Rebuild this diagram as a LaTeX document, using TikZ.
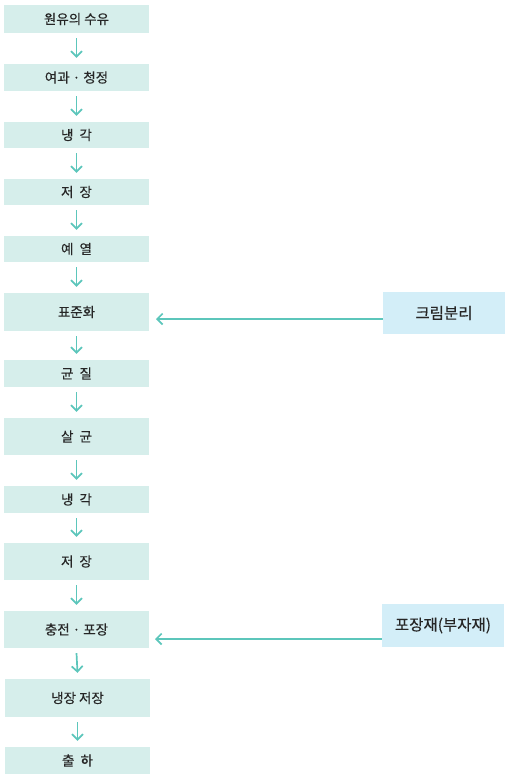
\documentclass[tikz,border=0pt]{standalone}
\usepackage{fontspec}
\setmainfont{Noto Sans CJK KR}
\newfontfamily\krm[FakeBold=0.35]{Noto Sans CJK KR}
\usetikzlibrary{arrows.meta}
\definecolor{boxfill}{HTML}{D6EEEB}
\definecolor{sidefill}{HTML}{D3EEF8}
\definecolor{arrowc}{HTML}{5CC6BB}
\definecolor{textc}{HTML}{262626}
\begin{document}
\begin{tikzpicture}[x=1pt,y=-1pt,
  stepbox/.style={fill=boxfill,draw=none,inner sep=0pt,text=textc,font=\krm\fontsize{13.5}{15}\selectfont},
  sidebox/.style={fill=sidefill,draw=none,inner sep=0pt,text=textc,font=\krm\fontsize{15.5}{17}\selectfont},
  flow/.style={draw=arrowc,line width=1.7pt,-{Straight Barb[length=5.5pt,width=11pt,line width=1.7pt]}}]
\useasboundingbox (0,0) rectangle (509,780);
% main boxes: (x1,y1) to (x2,y2)
\newcommand{\stepnode}[6]{\node[stepbox,minimum width=#4-#2,minimum height=#5-#3] (#1) at ({(#2+#4)/2},{(#3+#5)/2}) {#6};}
\stepnode{b1}{4}{5}{149}{33}{원유의 수유}
\stepnode{b2}{4}{64}{149}{91}{여과 · 청정}
\stepnode{b3}{4}{122}{149}{148}{냉\ \ 각}
\stepnode{b4}{4}{179}{149}{205}{저\ \ 장}
\stepnode{b5}{4}{236}{149}{262}{예\ \ 열}
\stepnode{b6}{4}{293}{149}{331}{표준화}
\stepnode{b7}{4}{360}{149}{387}{균\ \ 질}
\stepnode{b8}{4}{418}{149}{455}{살\ \ 균}
\stepnode{b9}{4}{486}{149}{513}{냉\ \ 각}
\stepnode{b10}{4}{543}{149}{580}{저\ \ 장}
\stepnode{b11}{4}{611}{149}{648}{충전 · 포장}
\stepnode{b12}{5}{679}{150}{717}{냉장 저장}
\stepnode{b13}{5}{747}{150}{774}{출\ \ 하}
\node[sidebox,minimum width=122,minimum height=42] (s1) at (444,313) {크림분리};
\node[sidebox,minimum width=122,minimum height=43] (s2) at (443,625.5) {포장재(부자재)};
\foreach \a/\b in {b1/b2,b2/b3,b3/b4,b4/b5,b5/b6,b6/b7,b7/b8,b8/b9,b9/b10,b10/b11,b11/b12,b12/b13}
  \draw[flow] ([yshift=-5pt]\a.south) -- ([yshift=6pt]\b.north);
\draw[flow] (s1.west |- 0,319) -- (156,319) coordinate (t1);
\draw[flow] (s2.west |- 0,639) -- (155,639) coordinate (t2);
\end{tikzpicture}
\end{document}
